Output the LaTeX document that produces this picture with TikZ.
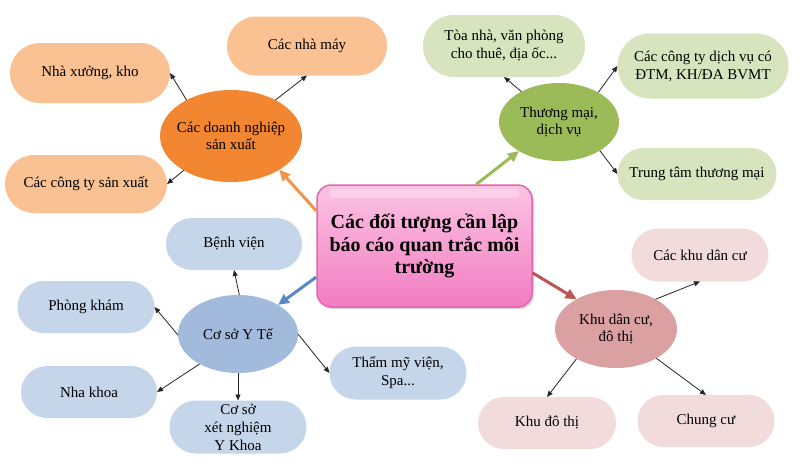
\documentclass[tikz,border=0pt]{standalone}
\usepackage{fontspec}
\setmainfont{Liberation Serif}
\usetikzlibrary{arrows.meta,shapes.geometric,shapes.misc,shadows}
\definecolor{orE}{HTML}{F38630}
\definecolor{orL}{HTML}{FAC193}
\definecolor{orA}{HTML}{F0954A}
\definecolor{grE}{HTML}{9BBB59}
\definecolor{grL}{HTML}{D7E4BD}
\definecolor{grA}{HTML}{9BBB59}
\definecolor{blE}{HTML}{A2BADB}
\definecolor{blL}{HTML}{C5D5EA}
\definecolor{blA}{HTML}{5A87C5}
\definecolor{pkE}{HTML}{DAA0A2}
\definecolor{pkL}{HTML}{F2DCDB}
\definecolor{pkA}{HTML}{BC5552}
\definecolor{cTop}{HTML}{FCC4E3}
\definecolor{cBot}{HTML}{F27CC2}
\definecolor{cBorder}{HTML}{E466B0}
\begin{document}
\begin{tikzpicture}[x=1pt,y=-1pt,
  leaf/.style={rounded rectangle, inner sep=0pt, outer sep=0pt, align=center,
    font=\fontsize{15}{18}\selectfont, text=black},
  hub/.style={ellipse, inner sep=0pt, outer sep=0pt},
  hubtext/.style={align=center, font=\fontsize{15}{17}\selectfont, text=black},
  thin/.style={-{Triangle[length=6pt,width=5pt]}, line width=0.8pt, black!85},
  main/.style={-{Triangle[length=11pt,width=10pt]}, line width=3pt},
]
\useasboundingbox (0,0) rectangle (800,472);
\fill[white] (0,0) rectangle (800,472);

% hubs
\node[hub, fill=orE, minimum width=142pt, minimum height=92pt] (O) at (231,136) {};
\node[hubtext] (Ot) at (O) {Các doanh nghiệp\\sản xuất};
\node[hub, fill=grE, minimum width=120pt, minimum height=78pt] (G) at (559,122) {};
\node[hubtext] (Gt) at (G) {Thương mại,\\dịch vụ};
\node[hub, fill=blE, minimum width=120pt, minimum height=78pt] (B) at (238,334) {};
\node[hubtext] (Bt) at (B) {Cơ sở Y Tế};
\node[hub, fill=pkE, minimum width=122pt, minimum height=78pt] (P) at (616,329) {};
\node[hubtext] (Pt) at (P) {Khu dân cư,\\đô thị};

% orange leaves
\node[leaf, fill=orL, minimum width=160pt, minimum height=60pt] (N1) at (90,73) {Nhà xưởng, kho};
\node[leaf, fill=orL, minimum width=160pt, minimum height=59pt] (N2) at (307,46) {Các nhà máy};
\node[leaf, fill=orL, minimum width=162pt, minimum height=58pt] (N3) at (86,184) {Các công ty sản xuất};

% green leaves
\node[leaf, fill=grL, minimum width=162pt, minimum height=62pt] (G1) at (504,46) {Tòa nhà, văn phòng\\cho thuê, địa ốc...};
\node[leaf, fill=grL, minimum width=171pt, minimum height=65pt] (G2) at (703,66) {Các công ty dịch vụ có\\ĐTM, KH/ĐA BVMT};
\node[leaf, fill=grL, minimum width=159pt, minimum height=52pt] (G3) at (697,174) {Trung tâm thương mại};

% blue leaves
\node[leaf, fill=blL, minimum width=136pt, minimum height=52pt] (B1) at (234,244) {Bệnh viện};
\node[leaf, fill=blL, minimum width=137pt, minimum height=52pt] (B2) at (86,307) {Phòng khám};
\node[leaf, fill=blL, minimum width=136pt, minimum height=52pt] (B3) at (89,392) {Nha khoa};
\node[leaf, fill=blL, minimum width=137pt, minimum height=53pt] (B4) at (238,427) {Cơ sở\\xét nghiệm\\Y Khoa};
\node[leaf, fill=blL, minimum width=137pt, minimum height=53pt] (B5) at (398,373) {Thẩm mỹ viện,\\Spa...};

% pink leaves
\node[leaf, fill=pkL, minimum width=137pt, minimum height=53pt] (P1) at (700,255) {Các khu dân cư};
\node[leaf, fill=pkL, minimum width=138pt, minimum height=52pt] (P2) at (547,423) {Khu đô thị};
\node[leaf, fill=pkL, minimum width=137pt, minimum height=52pt] (P3) at (706,421) {Chung cư};

% central box
\node[rectangle, rounded corners=14pt, minimum width=215pt, minimum height=122pt,
  inner sep=0pt, draw=cBorder, line width=1.5pt, top color=cTop, bottom color=cBot,
  drop shadow={shadow xshift=2pt, shadow yshift=-2pt, opacity=0.3},
  align=center, font=\fontsize{20}{22.5}\selectfont\bfseries] (C) at (424.5,246)
  {Các đối tượng cần lập\\báo cáo quan trắc môi\\trường};
\fill[white, opacity=0.28, rounded corners=3pt] (330,189) rectangle (519,198);

% main connectors
\draw[main, orA] (C.162) -- (O.-35);
\draw[main, grA] (C.50) -- (G.216);
\draw[main, blA] (C.196) -- (B.36);
\draw[main, pkA] (C.-14) -- (P.143);

% small connectors
\draw[thin] (O.141) -- (N1.east);
\draw[thin] (O.39) -- (N2.south);
\draw[thin] (O.216) -- (N3.east);
\draw[thin] (G.141) -- (G1.south);
\draw[thin] (G.37) -- (G2.west);
\draw[thin] (G.-35) -- (G3.west);
\draw[thin] (B.88) -- (B1.south);
\draw[thin] (B.181) -- (B2.east);
\draw[thin] (B.218) -- (B3.east);
\draw[thin] (B.south) -- (B4.north);
\draw[thin] (B.east) -- (B5.west);
\draw[thin] (P.37) -- (P1.south);
\draw[thin] (P.217) -- (P2.north);
\draw[thin] (P.-36) -- (P3.north);
\end{tikzpicture}
\end{document}
